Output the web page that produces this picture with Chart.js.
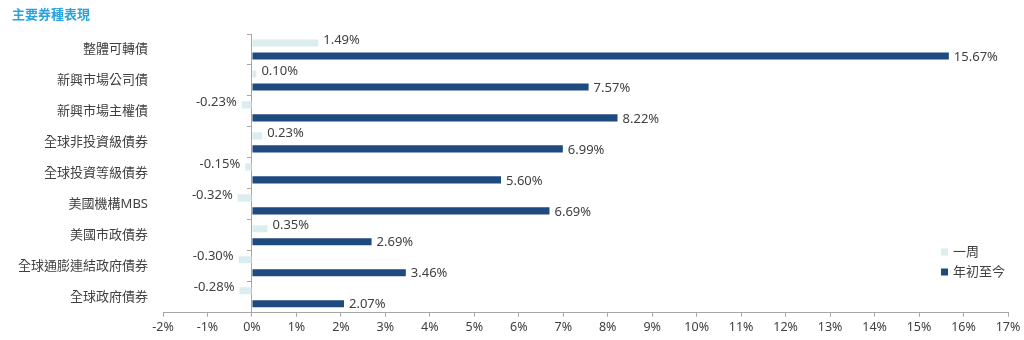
<!DOCTYPE html>
<html>
<head>
<meta charset="utf-8">
<script src="https://cdn.jsdelivr.net/npm/chart.js@4/dist/chart.umd.min.js"></script>
<style>
  html, body { margin: 0; padding: 0; background: #fff; }
  #wrap { position: relative; width: 1024px; height: 340px; }
</style>
</head>
<body>
<div id="wrap"><canvas id="bondChart"></canvas></div>
<script>
// Chart data
const categories = ['整體可轉債', '新興市場公司債', '新興市場主權債', '全球非投資級債券', '全球投資等級債券',
    '美國機構MBS', '美國市政債券', '全球通膨連結政府債券', '全球政府債券'];
const weekReturns = [1.49, 0.10, -0.23, 0.23, -0.15, -0.32, 0.35, -0.30, -0.28];
const ytdReturns = [15.67, 7.57, 8.22, 6.99, 5.60, 6.69, 2.69, 3.46, 2.07];
const seriesNames = ['一周', '年初至今'];
const xMin = -2;
const xMax = 17;

const FONT = "'Noto Sans', 'Noto Sans CJK TC', sans-serif";
const TEXT_COLOR = '#404040';
const AXIS_COLOR = '#a6a6a6';
const LIGHT = '#dcedf0';
const DARK = '#1f4a7f';

// value labels next to each bar
const valueLabels = {
    id: 'valueLabels',
    afterDatasetsDraw(chart) {
        const ctx = chart.ctx;
        ctx.save();
        ctx.font = '13px ' + FONT;
        ctx.fillStyle = TEXT_COLOR;
        ctx.textBaseline = 'middle';
        chart.data.datasets.forEach((ds, i) => {
            const meta = chart.getDatasetMeta(i);
            const dy = i === 0 ? -3 : 1;
            meta.data.forEach((bar, j) => {
                const v = ds.data[j];
                const text = v.toFixed(2) + '%';
                if (v >= 0) {
                    ctx.textAlign = 'left';
                    ctx.fillText(text, bar.x + 5, bar.y + dy);
                } else {
                    ctx.textAlign = 'right';
                    ctx.fillText(text, bar.x - 5, bar.y + dy);
                }
            });
        });
        ctx.restore();
    }
};

// small legend at lower right of the plot
const cornerLegend = {
    id: 'cornerLegend',
    afterDraw(chart) {
        const ctx = chart.ctx;
        ctx.save();
        ctx.font = '13px ' + FONT;
        ctx.textBaseline = 'middle';
        ctx.textAlign = 'left';
        chart.data.datasets.forEach((ds, i) => {
            const y = 252 + i * 20;
            ctx.fillStyle = ds.backgroundColor;
            ctx.fillRect(941, y - 3.5, 7, 7);
            ctx.fillStyle = TEXT_COLOR;
            ctx.fillText(ds.label, 953, y);
        });
        ctx.restore();
    }
};

new Chart(document.getElementById('bondChart'), {
    type: 'bar',
    data: {
        labels: categories,
        datasets: [
            {
                label: seriesNames[0],
                data: weekReturns,
                backgroundColor: LIGHT,
                categoryPercentage: 0.84,
                barPercentage: 0.55
            },
            {
                label: seriesNames[1],
                data: ytdReturns,
                backgroundColor: DARK,
                categoryPercentage: 0.84,
                barPercentage: 0.55
            }
        ]
    },
    options: {
        indexAxis: 'y',
        responsive: true,
        maintainAspectRatio: false,
        animation: false,
        layout: { padding: { left: 12, right: 16, top: 0, bottom: 0 } },
        plugins: {
            legend: { display: false },
            tooltip: { enabled: false },
            title: {
                display: true,
                text: '主要券種表現',
                align: 'start',
                color: '#2aa3dc',
                font: { family: FONT, size: 13, weight: 'bold' },
                padding: { top: 7, bottom: 11.4 }
            }
        },
        scales: {
            x: {
                type: 'linear',
                min: xMin,
                max: xMax,
                afterFit: (scale) => { scale.height = 27.3; },
                ticks: {
                    stepSize: 1,
                    color: TEXT_COLOR,
                    padding: 3,
                    font: { family: FONT, size: 12.5 },
                    callback: (v) => v + '%'
                },
                grid: {
                    drawOnChartArea: false,
                    tickLength: 4,
                    color: AXIS_COLOR
                },
                border: { color: AXIS_COLOR }
            },
            y: {
                type: 'category',
                offset: true,
                afterFit: (scale) => { scale.width = 151; },
                ticks: {
                    color: TEXT_COLOR,
                    padding: 15,
                    font: { family: FONT, size: 13 }
                },
                grid: { display: false, drawTicks: false },
                border: { display: false }
            },
            // zero line with its little tick marks
            yZero: {
                type: 'category',
                axis: 'y',
                position: { x: 0 },
                offset: true,
                ticks: { display: false },
                grid: {
                    offset: true,
                    drawOnChartArea: false,
                    tickLength: 4,
                    color: AXIS_COLOR
                },
                border: { color: AXIS_COLOR }
            }
        }
    },
    plugins: [valueLabels, cornerLegend]
});
</script>
</body>
</html>
